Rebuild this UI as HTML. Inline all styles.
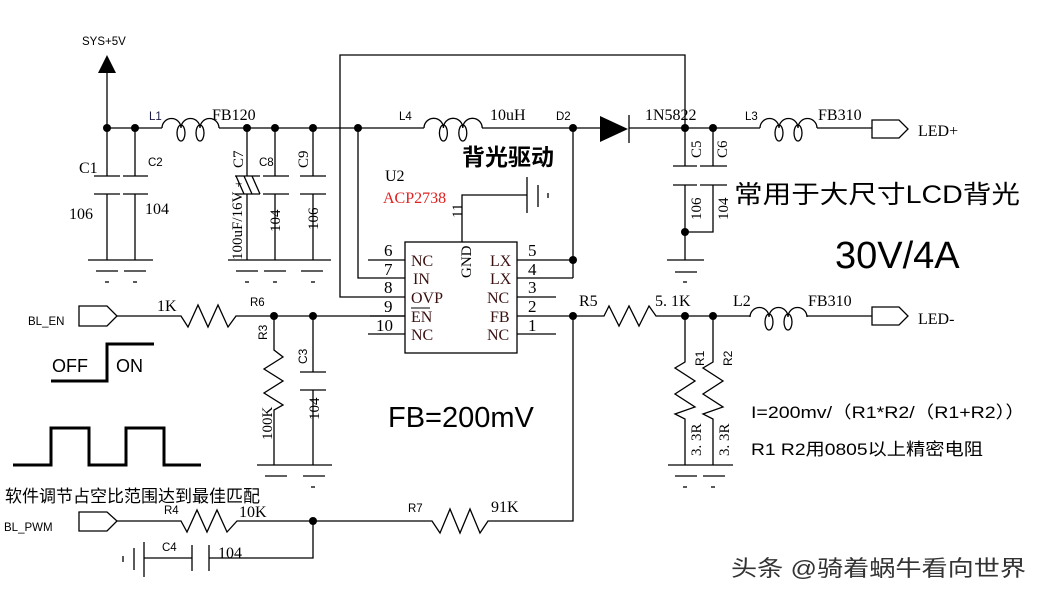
<!DOCTYPE html>
<html><head><meta charset="utf-8"><style>
html,body{margin:0;padding:0;background:#fff;}
svg{display:block;}
.s{font-family:"Liberation Sans","Noto Sans CJK SC",sans-serif;}
.r{font-family:"Liberation Serif","Noto Serif CJK SC",serif;}
</style></head><body>
<svg width="1044" height="596" viewBox="0 0 1044 596" xmlns="http://www.w3.org/2000/svg">
<g stroke="#000" stroke-width="1.3" fill="none">
<line x1="107" y1="72" x2="107" y2="128"/>
<line x1="107" y1="128" x2="162" y2="128"/>
<line x1="219" y1="128" x2="424" y2="128"/>
<line x1="482" y1="128" x2="600" y2="128"/>
<line x1="629" y1="128" x2="760" y2="128"/>
<line x1="817" y1="128" x2="872" y2="128"/>
<path d="M162 128 a9.5 9.5 0 0 1 19 0 a9.5 9.5 0 0 1 19 0 a9.5 9.5 0 0 1 19 0"/>
<ellipse cx="181" cy="133" rx="4" ry="8"/><ellipse cx="200" cy="133" rx="4" ry="8"/>
<path d="M424 128 a9.7 9.7 0 0 1 19.4 0 a9.7 9.7 0 0 1 19.4 0 a9.7 9.7 0 0 1 19.4 0"/>
<ellipse cx="443.4" cy="133" rx="4" ry="8"/><ellipse cx="462.8" cy="133" rx="4" ry="8"/>
<path d="M760 128 a9.5 9.5 0 0 1 19 0 a9.5 9.5 0 0 1 19 0 a9.5 9.5 0 0 1 19 0"/>
<ellipse cx="779" cy="133" rx="4" ry="8"/><ellipse cx="798" cy="133" rx="4" ry="8"/>
<path d="M750 317 a9.5 9.5 0 0 1 19 0 a9.5 9.5 0 0 1 19 0 a9.5 9.5 0 0 1 19 0"/>
<ellipse cx="769" cy="322" rx="4" ry="8"/><ellipse cx="788" cy="322" rx="4" ry="8"/>
<line x1="107" y1="128" x2="107" y2="176"/><line x1="107" y1="194" x2="107" y2="260"/>
<line x1="94" y1="176" x2="120" y2="176"/><line x1="94" y1="194" x2="120" y2="194"/>
<line x1="135" y1="128" x2="135" y2="176"/><line x1="135" y1="194" x2="135" y2="260"/>
<line x1="123" y1="176" x2="148" y2="176"/><line x1="123" y1="194" x2="148" y2="194"/>
<line x1="88" y1="260" x2="153" y2="260"/>
<line x1="96" y1="271" x2="118" y2="271"/><line x1="124" y1="271" x2="146" y2="271"/>
<line x1="105" y1="282" x2="109" y2="282"/><line x1="133" y1="282" x2="137" y2="282"/>
<line x1="247" y1="128" x2="247" y2="176"/><line x1="247" y1="194" x2="247" y2="260"/>
<line x1="235" y1="176" x2="260" y2="176"/><line x1="235" y1="194" x2="260" y2="194"/>
<path d="M236 176 l8 18 M244 176 l8 18 M252 176 l8 18"/>
<line x1="275" y1="128" x2="275" y2="176"/><line x1="275" y1="194" x2="275" y2="260"/>
<line x1="263" y1="176" x2="289" y2="176"/><line x1="263" y1="194" x2="289" y2="194"/>
<line x1="313" y1="128" x2="313" y2="176"/><line x1="313" y1="194" x2="313" y2="260"/>
<line x1="300" y1="176" x2="326" y2="176"/><line x1="300" y1="194" x2="326" y2="194"/>
<line x1="228" y1="260" x2="331" y2="260"/>
<line x1="236" y1="271" x2="258" y2="271"/><line x1="264" y1="271" x2="286" y2="271"/><line x1="301" y1="271" x2="323" y2="271"/>
<line x1="245" y1="282" x2="249" y2="282"/><line x1="273" y1="282" x2="277" y2="282"/><line x1="311" y1="282" x2="315" y2="282"/>
<polyline points="405,297 340,297 340,55 685,55 685,128"/>
<polyline points="358,128 358,278 405,278"/>
<rect x="405" y="242" width="112" height="111"/>
<line x1="368" y1="260" x2="405" y2="260"/><line x1="368" y1="334" x2="405" y2="334"/>
<line x1="370" y1="316" x2="405" y2="316"/>
<line x1="517" y1="260" x2="573" y2="260"/><line x1="517" y1="278" x2="573" y2="278"/>
<line x1="517" y1="297" x2="556" y2="297"/><line x1="517" y1="334" x2="556" y2="334"/>
<line x1="517" y1="316" x2="600" y2="316"/>
<line x1="573" y1="128" x2="573" y2="278"/>
<polyline points="462,242 462,195 527,195"/>
<line x1="527" y1="177" x2="527" y2="213"/><line x1="538" y1="185" x2="538" y2="207"/><line x1="548" y1="193" x2="548" y2="198"/>
<line x1="685" y1="128" x2="685" y2="166"/><line x1="685" y1="185" x2="685" y2="260"/>
<line x1="673" y1="166" x2="697" y2="166"/><line x1="673" y1="185" x2="697" y2="185"/>
<line x1="713" y1="128" x2="713" y2="166"/><polyline points="713,185 713,232 685,232"/>
<line x1="700" y1="166" x2="727" y2="166"/><line x1="700" y1="185" x2="727" y2="185"/>
<line x1="667" y1="260" x2="704" y2="260"/><line x1="675" y1="272" x2="697" y2="272"/><line x1="683" y1="282" x2="687" y2="282"/>
<polyline points="872,128 872,120 899,120 908,129 899,138 872,138 872,128"/>
<polyline points="872,316 872,307 899,307 908,316 899,325 872,325 872,316"/>
<polyline points="600,316 604,316 609,306 619,326 629,306 639,326 649,306 656,316 750,316"/>
<line x1="807" y1="316" x2="872" y2="316"/>
<polyline points="685,316 685,362 675,368 695,381 675,394 695,407 675,414 685,419 685,465"/>
<polyline points="713,316 713,362 703,368 723,381 703,394 723,407 703,414 713,419 713,465"/>
<line x1="668" y1="465" x2="733" y2="465"/>
<line x1="675" y1="476" x2="697" y2="476"/><line x1="703" y1="476" x2="725" y2="476"/>
<line x1="683" y1="487" x2="687" y2="487"/><line x1="711" y1="487" x2="715" y2="487"/>
<polyline points="573,316 573,521 491,521"/>
<polyline points="491,521 488,521 480,533 470,509 460,533 450,509 440,533 432,521 313,521"/>
<polyline points="79,316 79,306 107,306 117,316 107,326 79,326 79,316"/>
<polyline points="117,316 181,316 188,327 198,305 208,327 218,305 228,327 236,316 405,316"/>
<polyline points="274,316 274,350 283,357 264,369 283,381 264,393 283,405 274,410 274,465"/>
<line x1="313" y1="316" x2="313" y2="372"/><line x1="313" y1="390" x2="313" y2="465"/>
<line x1="300" y1="372" x2="326" y2="372"/><line x1="300" y1="390" x2="326" y2="390"/>
<line x1="257" y1="465" x2="332" y2="465"/>
<line x1="265" y1="476" x2="287" y2="476"/><line x1="303" y1="476" x2="325" y2="476"/>
<line x1="311" y1="487" x2="315" y2="487"/>
<polyline points="79,521 79,512 107,512 117,521 107,531 79,531 79,521"/>
<polyline points="117,521 181,521 187,532 197,510 207,532 217,510 227,532 237,521 313,521"/>
<polyline points="313,521 313,558 209,558"/>
<line x1="209" y1="545" x2="209" y2="571"/><line x1="192" y1="545" x2="192" y2="571"/>
<line x1="192" y1="558" x2="144" y2="558"/>
<line x1="144" y1="542" x2="144" y2="577"/><line x1="134" y1="548" x2="134" y2="570"/><line x1="123" y1="556" x2="123" y2="562"/>
</g>
<g stroke="#000" stroke-width="3" fill="none">
<polyline points="51,381 107,381 107,344 154,344"/>
<polyline points="13,465 51,465 51,428 89,428 89,465 126,465 126,428 164,428 164,465 201,465"/>
</g>
<polygon points="107,55 98,73 116,73" fill="#000"/>
<polygon points="600,116 600,142 628,129" fill="#000"/>
<line x1="629" y1="115" x2="629" y2="143" stroke="#000" stroke-width="1.3"/>
<g fill="#000">
<circle cx="107" cy="128" r="4"/><circle cx="135" cy="128" r="4"/><circle cx="247" cy="128" r="4"/>
<circle cx="275" cy="128" r="4"/><circle cx="313" cy="128" r="4"/><circle cx="358" cy="128" r="4"/>
<circle cx="573" cy="128" r="4"/><circle cx="685" cy="128" r="4"/><circle cx="713" cy="128" r="4"/>
<circle cx="685" cy="232" r="4"/><circle cx="573" cy="260" r="4"/><circle cx="573" cy="316" r="4"/>
<circle cx="685" cy="316" r="4"/><circle cx="713" cy="316" r="4"/>
<circle cx="274" cy="316" r="4"/><circle cx="313" cy="316" r="4"/><circle cx="313" cy="521" r="4"/>
</g>
<g class="s" font-size="11.5" fill="#000">
<text x="82" y="45">SYS+5V</text>
<text x="149" y="120" fill="#1a1a4a">L1</text>
<text x="148" y="166">C2</text>
<text x="399" y="120">L4</text>
<text x="556" y="120">D2</text>
<text x="745" y="120">L3</text>
<text x="250" y="306">R6</text>
<text x="28" y="325">BL_EN</text>
<text x="4" y="531">BL_PWM</text>
<text x="164" y="514">R4</text>
<text x="162" y="551">C4</text>
<text x="408" y="512">R7</text>
<text x="259" y="166">C8</text>
</g>
<g class="r" font-size="16" fill="#000">
<text x="79" y="173">C1</text>
<text x="69" y="219">106</text>
<text x="145" y="214">104</text>
<text x="212" y="120">FB120</text>
<text x="490" y="120">10uH</text>
<text x="645" y="120">1N5822</text>
<text x="818" y="120">FB310</text>
<text x="918" y="136">LED+</text>
<text x="918" y="324">LED-</text>
<text x="579" y="306">R5</text>
<text x="655" y="306">5. 1K</text>
<text x="733" y="306">L2</text>
<text x="808" y="306">FB310</text>
<text x="157" y="311">1K</text>
<text x="239" y="517">10K</text>
<text x="491" y="512">91K</text>
<text x="218" y="558">104</text>
<text x="385" y="181">U2</text>
<text x="383" y="203" fill="#e02020">ACP2738</text>
</g>
<g class="r" font-size="15" fill="#000">
<text transform="translate(243,168) rotate(-90)">C7</text>
<text x="235" y="188" font-size="13">+</text>
<text transform="translate(242,260) rotate(-90)">100uF/16V</text>
<text transform="translate(280,232) rotate(-90)">104</text>
<text transform="translate(318,230) rotate(-90)">106</text>
<text transform="translate(308,168) rotate(-90)">C9</text>
<text transform="translate(462,218) rotate(-90)">11</text>
<text transform="translate(471,278) rotate(-90)">GND</text>
<text transform="translate(701,158) rotate(-90)">C5</text>
<text transform="translate(727,158) rotate(-90)">C6</text>
<text transform="translate(701,220) rotate(-90)">106</text>
<text transform="translate(728,220) rotate(-90)">104</text>
<text transform="translate(319,420) rotate(-90)">104</text>
<text transform="translate(272,440) rotate(-90)">100K</text>
<text transform="translate(701,456) rotate(-90)">3. 3R</text>
<text transform="translate(729,456) rotate(-90)">3. 3R</text>
</g>
<g class="s" font-size="12" fill="#000">
<text transform="translate(267,340) rotate(-90)">R3</text>
<text transform="translate(307,364) rotate(-90)">C3</text>
<text transform="translate(704,366) rotate(-90)">R1</text>
<text transform="translate(732,366) rotate(-90)">R2</text>
</g>
<g class="r" font-size="17" fill="#000">
<text x="384" y="256">6</text><text x="384" y="275">7</text><text x="384" y="293">8</text><text x="384" y="312">9</text><text x="376" y="331">10</text>
<text x="528" y="256">5</text><text x="528" y="275">4</text><text x="528" y="293">3</text><text x="528" y="312">2</text><text x="528" y="331">1</text>
</g>
<g class="r" font-size="16" fill="#3a1010">
<text x="411" y="266">NC</text><text x="413" y="284">IN</text><text x="411" y="303">OVP</text><text x="411" y="322">EN</text><text x="411" y="340">NC</text>
<text x="490" y="266">LX</text><text x="490" y="284">LX</text><text x="487" y="303">NC</text><text x="490" y="322">FB</text><text x="487" y="340">NC</text>
</g>
<line x1="411" y1="308" x2="430" y2="308" stroke="#000" stroke-width="1"/>
<g class="s" fill="#000">
<text x="462" y="165" font-size="23" font-weight="bold">背光驱动</text>
<text x="734" y="203" font-size="25" textLength="286" lengthAdjust="spacingAndGlyphs">常用于大尺寸LCD背光</text>
<text x="835" y="268" font-size="38">30V/4A</text>
<text x="388" y="427" font-size="29">FB=200mV</text>
<text x="52" y="372" font-size="18">OFF</text>
<text x="116" y="372" font-size="18">ON</text>
<text x="5" y="502" font-size="17">软件调节占空比范围达到最佳匹配</text>
<text x="751" y="418" font-size="17" textLength="274" lengthAdjust="spacingAndGlyphs">I=200mv/（R1*R2/（R1+R2））</text>
<text x="751" y="455" font-size="17" textLength="232" lengthAdjust="spacingAndGlyphs">R1 R2用0805以上精密电阻</text>
<text x="731" y="576" font-size="22" fill="#333" textLength="295" lengthAdjust="spacingAndGlyphs">头条 @骑着蜗牛看向世界</text>
</g>
</svg>
</body></html>
